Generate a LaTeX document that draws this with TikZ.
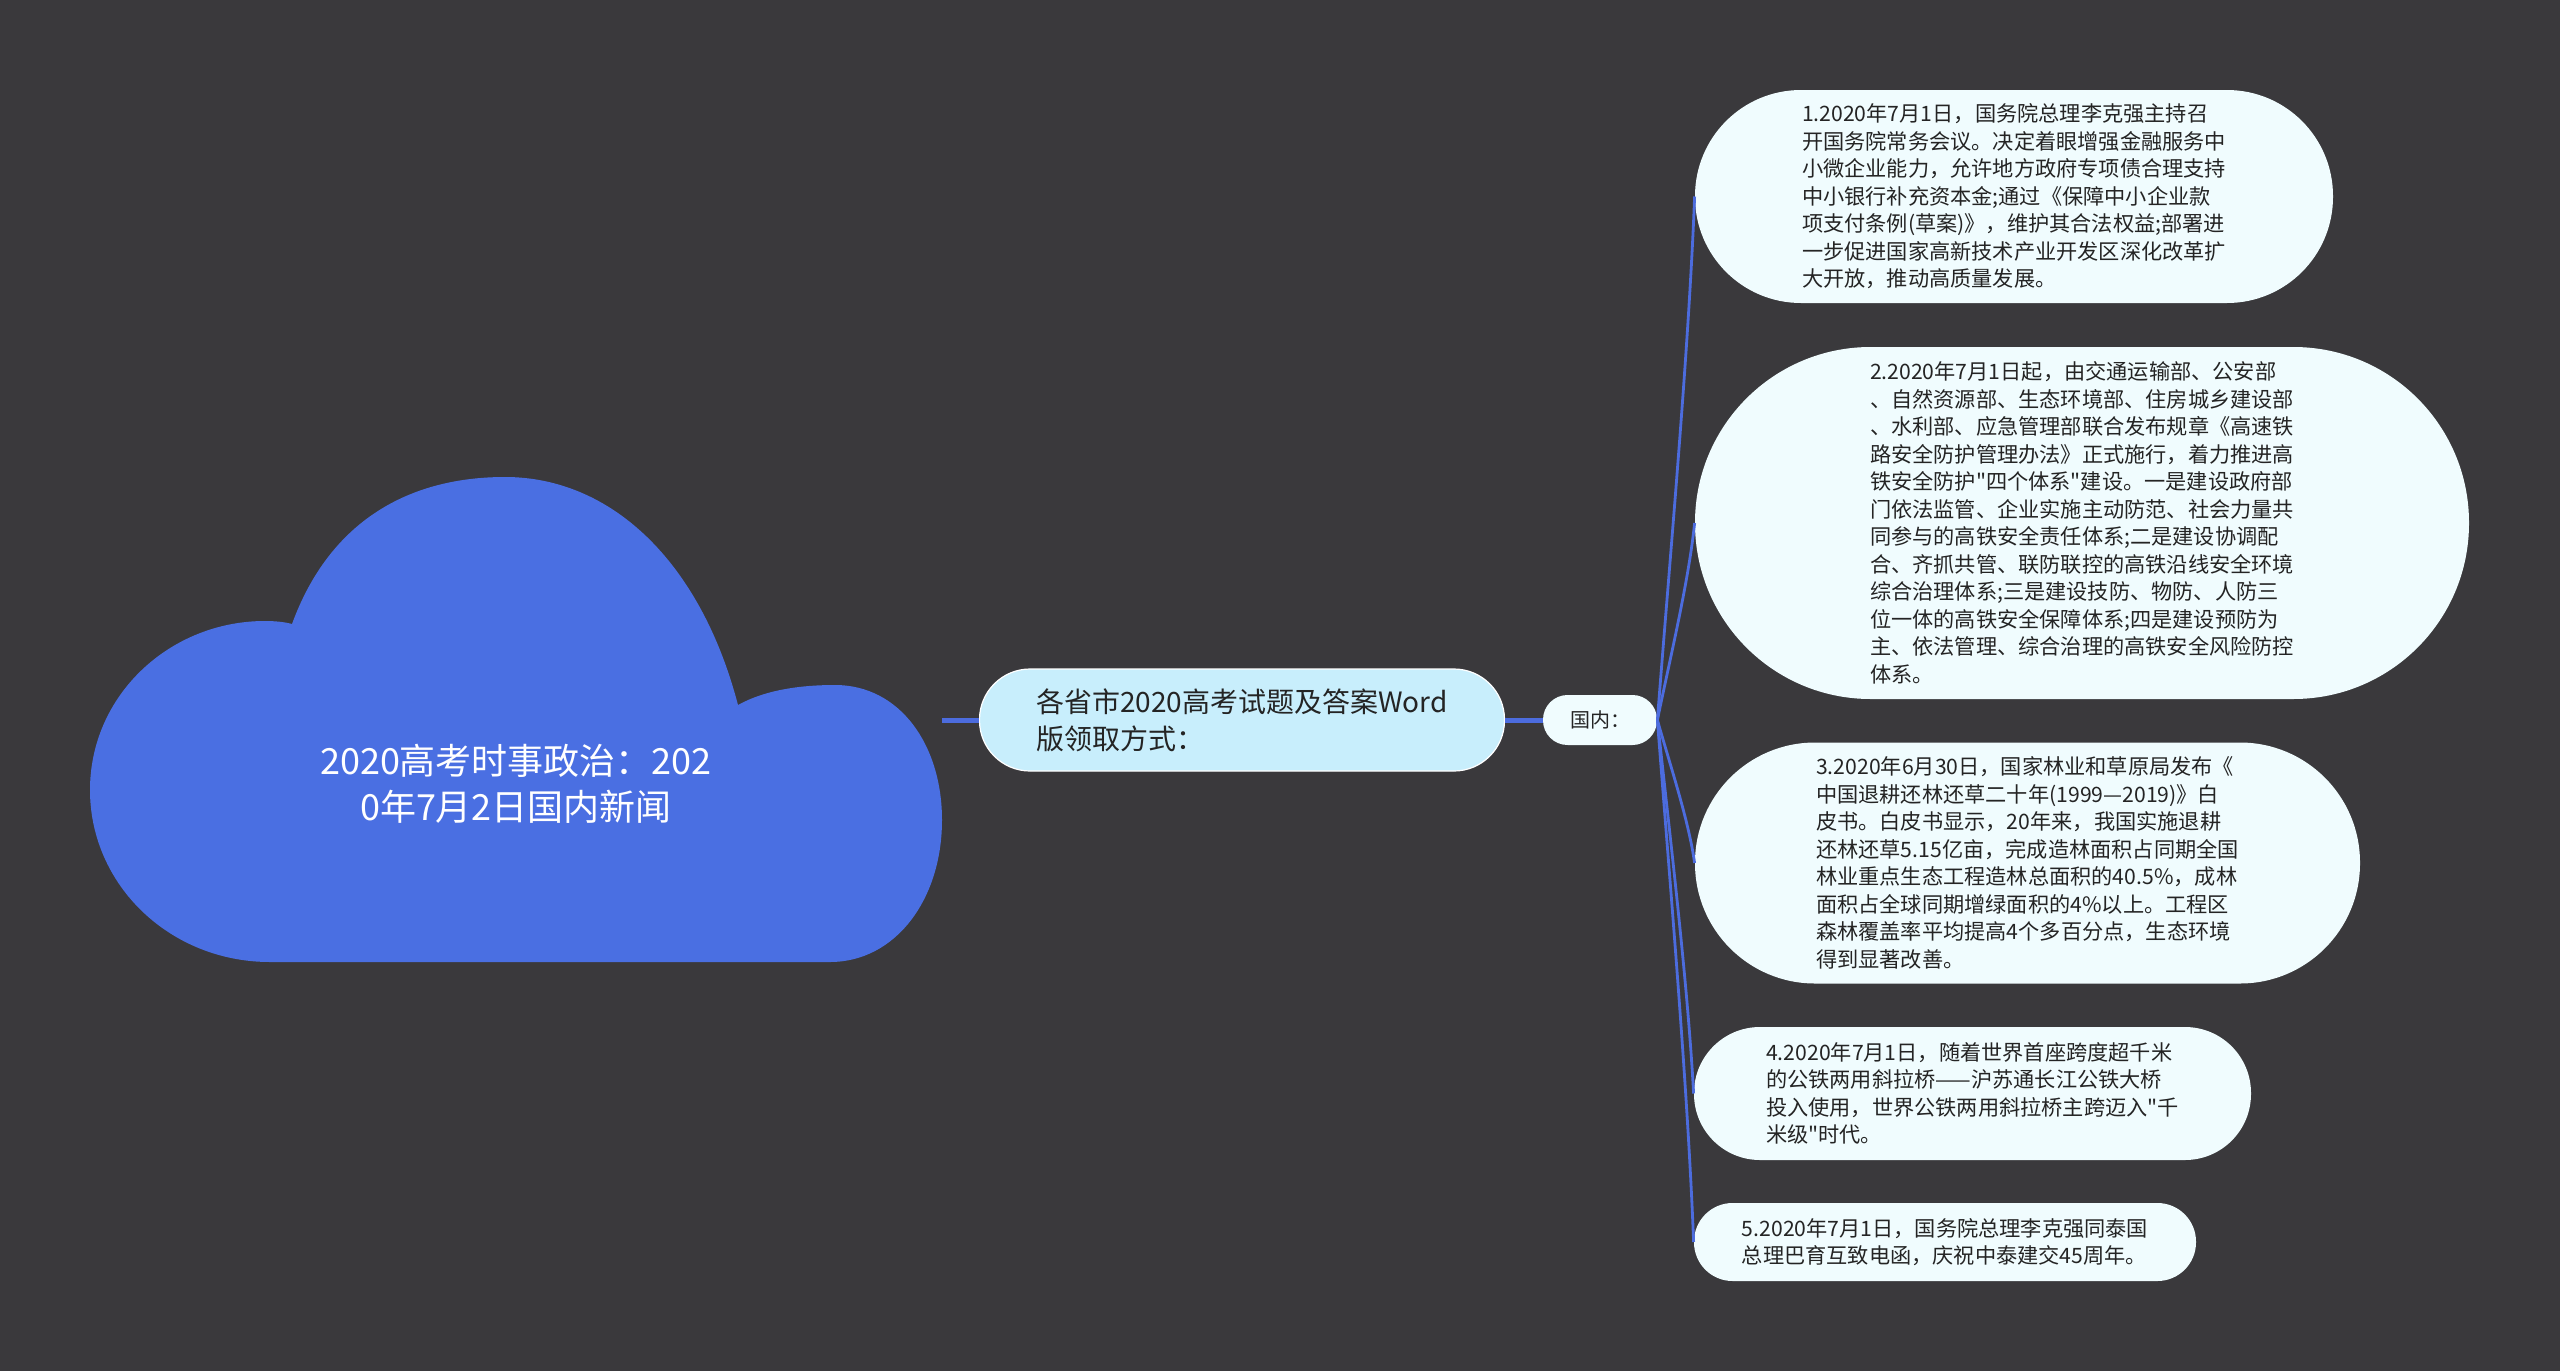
\documentclass[tikz,border=0pt]{standalone}
\usepackage{fontspec}
\newfontfamily\cjk{Noto Sans CJK SC}
\definecolor{bg}{RGB}{58,57,60}
\definecolor{cloudblue}{RGB}{74,111,226}
\definecolor{linkblue}{RGB}{76,108,222}
\definecolor{leaffill}{RGB}{240,252,254}
\definecolor{mainfill}{RGB}{200,238,252}
\definecolor{txt}{RGB}{36,36,36}
\begin{document}
\begin{tikzpicture}[x=0.5pt,y=-0.5pt,
  leafbox/.style={rectangle, fill=leaffill, inner sep=0pt, align=left, text=txt,
    font=\cjk\fontsize{10.6}{13.75}\selectfont},
  mainbox/.style={rectangle, fill=mainfill, draw=white, line width=0.6pt, inner sep=0pt, align=left, text=txt,
    font=\cjk\fontsize{14}{18.5}\selectfont},
  smallbox/.style={rectangle, fill=leaffill, inner sep=0pt, align=center, text=txt,
    font=\cjk\fontsize{10}{12}\selectfont},
  roottext/.style={align=center, text=white, inner sep=0pt,
    font=\cjk\fontsize{18}{23}\selectfont},
  thicklink/.style={draw=linkblue, line width=2.5pt},
  thinlink/.style={draw=linkblue, line width=1.4pt}
]
\fill[bg] (0,0) rectangle (2560,1371);
\useasboundingbox (0,0) rectangle (2560,1371);

% cloud
\fill[cloudblue] (292,624)
  .. controls (330,520) and (410,477) .. (505,477)
  .. controls (610,477) and (700,560) .. (738,705)
  .. controls (765,690) and (800,685) .. (835,685)
  .. controls (900,685) and (942,745) .. (942,820)
  .. controls (942,900) and (895,962) .. (830,962)
  -- (270,962)
  .. controls (170,962) and (90,885) .. (90,790)
  .. controls (90,695) and (170,621) .. (265,621)
  .. controls (275,621) and (285,622) .. (292,624)
  -- cycle;
\node[roottext] (root) at (516,784) {2020高考时事政治：202\\0年7月2日国内新闻};
\coordinate (rootE) at (942,720);

\node[mainbox, minimum width=262.5pt, minimum height=51pt, rounded corners=25.3pt] (n1) at (1242,720)
  {各省市2020高考试题及答案Word\\版领取方式：};
\node[smallbox, minimum width=57pt, minimum height=25pt, rounded corners=12.3pt] (gn) at (1600,720) {国内：};

\node[leafbox, minimum width=319pt, minimum height=106.5pt, rounded corners=53pt] (l1) at (2014,196.5)
  {1.2020年7月1日，国务院总理李克强主持召\\
   开国务院常务会议。决定着眼增强金融服务中\\
   小微企业能力，允许地方政府专项债合理支持\\
   中小银行补充资本金;通过《保障中小企业款\\
   项支付条例(草案)》，维护其合法权益;部署进\\
   一步促进国家高新技术产业开发区深化改革扩\\
   大开放，推动高质量发展。};

\node[leafbox, minimum width=387pt, minimum height=176pt, rounded corners=87.8pt] (l2) at (2082,523)
  {2.2020年7月1日起，由交通运输部、公安部\\
   、自然资源部、生态环境部、住房城乡建设部\\
   、水利部、应急管理部联合发布规章《高速铁\\
   路安全防护管理办法》正式施行，着力推进高\\
   铁安全防护"四个体系"建设。一是建设政府部\\
   门依法监管、企业实施主动防范、社会力量共\\
   同参与的高铁安全责任体系;二是建设协调配\\
   合、齐抓共管、联防联控的高铁沿线安全环境\\
   综合治理体系;三是建设技防、物防、人防三\\
   位一体的高铁安全保障体系;四是建设预防为\\
   主、依法管理、综合治理的高铁安全风险防控\\
   体系。};

\node[leafbox, minimum width=332.5pt, minimum height=120.5pt, rounded corners=60pt] (l3) at (2027.5,863)
  {3.2020年6月30日，国家林业和草原局发布《\\
   中国退耕还林还草二十年(1999—2019)》白\\
   皮书。白皮书显示，20年来，我国实施退耕\\
   还林还草5.15亿亩，完成造林面积占同期全国\\
   林业重点生态工程造林总面积的40.5\%，成林\\
   面积占全球同期增绿面积的4\%以上。工程区\\
   森林覆盖率平均提高4个多百分点，生态环境\\
   得到显著改善。};

\node[leafbox, minimum width=278.5pt, minimum height=66.5pt, rounded corners=33pt] (l4) at (1972.5,1093.5)
  {4.2020年7月1日，随着世界首座跨度超千米\\
   的公铁两用斜拉桥——沪苏通长江公铁大桥\\
   投入使用，世界公铁两用斜拉桥主跨迈入"千\\
   米级"时代。};

\node[leafbox, minimum width=251pt, minimum height=39pt, rounded corners=19.3pt] (l5) at (1945,1242)
  {5.2020年7月1日，国务院总理李克强同泰国\\
   总理巴育互致电函，庆祝中泰建交45周年。};

% connectors
\draw[thicklink] (rootE) -- (n1.west);
\draw[thicklink] (n1.east) -- (gn.west);
\draw[thinlink] (gn.east) .. controls +(12,-157) and +(-6,157) .. (l1.west);
\draw[thinlink] (gn.east) .. controls +(12,-59) and +(-6,59) .. (l2.west);
\draw[thinlink] (gn.east) .. controls +(12,43) and +(-6,-43) .. (l3.west);
\draw[thinlink] (gn.east) .. controls +(12,112) and +(-6,-112) .. (l4.west);
\draw[thinlink] (gn.east) .. controls +(12,157) and +(-6,-157) .. (l5.west);
\end{tikzpicture}
\end{document}
